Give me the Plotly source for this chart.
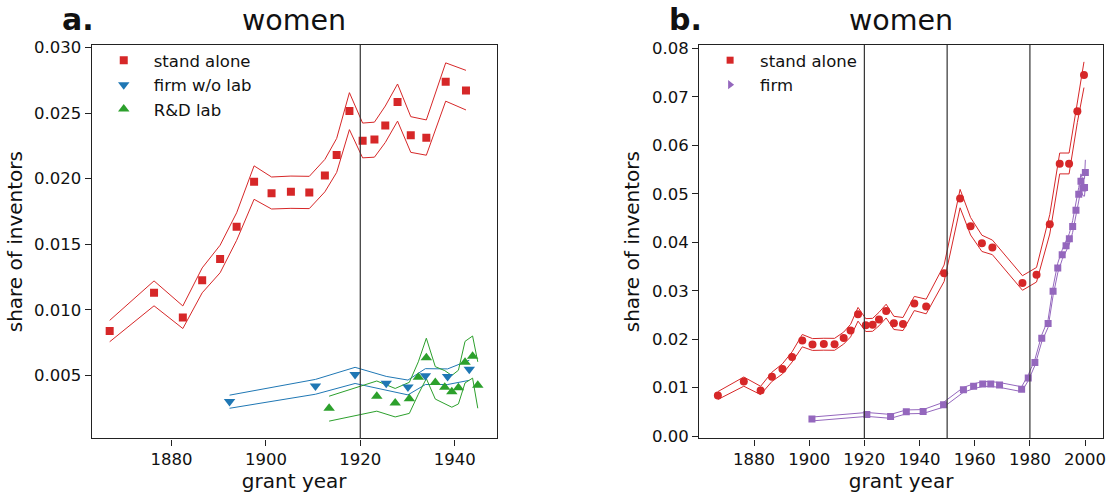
import plotly.graph_objects as go

FONT = "DejaVu Sans"
RED = "#d62728"
BLUE = "#1f77b4"
GREEN = "#2ca02c"
PURPLE = "#9467bd"
AXIS = "#222222"

# ---------------- panel a: women, by inventor organisation ----------------
years_sa = [1866.9, 1876.3, 1882.4, 1886.5, 1890.3, 1893.8, 1897.5, 1901.2, 1905.3, 1909.2,
            1912.5, 1915.0, 1917.7, 1920.5, 1923.0, 1925.3, 1927.9, 1930.7, 1934.0, 1938.1,
            1942.4]
share_sa = [0.00839, 0.01130, 0.00942, 0.01226, 0.01387, 0.01633, 0.01976, 0.01890, 0.01900, 0.01895,
            0.02024, 0.02181, 0.02517, 0.02290, 0.02298, 0.02406, 0.02584, 0.02332, 0.02313, 0.02739,
            0.02673]
upper_sa = [0.00920, 0.01221, 0.01030, 0.01320, 0.01493, 0.01740, 0.02098, 0.02013, 0.02020, 0.02018,
            0.02147, 0.02307, 0.02656, 0.02424, 0.02431, 0.02554, 0.02722, 0.02473, 0.02448, 0.02883,
            0.02826]
lower_sa = [0.00757, 0.01031, 0.00858, 0.01130, 0.01283, 0.01530, 0.01843, 0.01769, 0.01774, 0.01772,
            0.01900, 0.02048, 0.02374, 0.02159, 0.02164, 0.02276, 0.02439, 0.02201, 0.02179, 0.02591,
            0.02524]

years_nolab = [1892.3, 1910.5, 1918.9, 1925.5, 1930.1, 1933.8, 1938.5, 1943.1]
share_nolab = [0.00302, 0.00419, 0.00507, 0.00441, 0.00413, 0.00498, 0.00493, 0.00547]
upper_nolab = [0.00350, 0.00470, 0.00562, 0.00493, 0.00465, 0.00552, 0.00550, 0.00616]
lower_nolab = [0.00250, 0.00357, 0.00439, 0.00389, 0.00352, 0.00431, 0.00431, 0.00463]

years_lab = [1913.4, 1923.5, 1927.4, 1930.4, 1932.3, 1934.0, 1935.9, 1937.9, 1939.4, 1940.8,
             1942.2, 1943.8, 1944.9]
share_lab = [0.00250, 0.00342, 0.00290, 0.00322, 0.00487, 0.00636, 0.00446, 0.00411, 0.00376, 0.00406,
             0.00601, 0.00646, 0.00426]
upper_lab = [0.00342, 0.00458, 0.00401, 0.00448, 0.00604, 0.00784, 0.00567, 0.00537, 0.00500, 0.00540,
             0.00760, 0.00801, 0.00604]
lower_lab = [0.00152, 0.00228, 0.00184, 0.00211, 0.00357, 0.00476, 0.00320, 0.00287, 0.00258, 0.00283,
             0.00443, 0.00480, 0.00250]

breaks_a = [1920]

# ---------------- panel b: women, stand alone vs firm, long run ----------------
years_sa_late = [1948.9, 1954.7, 1958.5, 1962.6, 1966.4, 1977.3, 1982.4, 1987.2, 1990.8, 1994.2,
                 1997.2, 1999.6]
share_sa_late = [0.0336, 0.0490, 0.0433, 0.0398, 0.0389, 0.0316, 0.0333, 0.0437, 0.0562, 0.0562,
                 0.0670, 0.0745]
upper_sa_late = [0.0353, 0.0509, 0.0451, 0.04145, 0.04045, 0.0331, 0.0348, 0.0457, 0.0584, 0.0584,
                 0.0693, 0.0772]
lower_sa_late = [0.0319, 0.0471, 0.0415, 0.0381, 0.03744, 0.0301, 0.0318, 0.0417, 0.0541, 0.0541,
                 0.0647, 0.0719]

years_firm = [1901.0, 1920.9, 1929.5, 1935.2, 1941.3, 1948.7, 1955.9, 1959.6, 1962.9, 1965.8,
              1969.0, 1977.0, 1979.4, 1981.8, 1984.3, 1986.6, 1988.4, 1990.1, 1991.7, 1993.1,
              1994.3, 1995.5, 1996.7, 1997.7, 1998.5, 1999.2, 1999.8, 2000.1]
share_firm = [0.00355, 0.00449, 0.00409, 0.00502, 0.00509, 0.00650, 0.00956, 0.01030, 0.01077, 0.01077,
              0.01057, 0.00970, 0.01203, 0.01518, 0.02019, 0.02326, 0.02988, 0.03469, 0.03744, 0.03930,
              0.04071, 0.04325, 0.04660, 0.04990, 0.05260, 0.05120, 0.05130, 0.05440]
halfwidth_firm = [0.0004, 0.0004, 0.0004, 0.0004, 0.0004, 0.0005, 0.0005, 0.0005, 0.0005, 0.0005,
                  0.0005, 0.0005, 0.0006, 0.0006, 0.0007, 0.0008, 0.0009, 0.0010, 0.0010, 0.0011,
                  0.0011, 0.0012, 0.0013, 0.0014, 0.0015, 0.0016, 0.0018, 0.0026]

breaks_b = [1920, 1950, 1980]

years_sa_b = years_sa + years_sa_late
share_sa_b = share_sa + share_sa_late
upper_sa_b = upper_sa + upper_sa_late
lower_sa_b = lower_sa + lower_sa_late
upper_firm = [v + h for v, h in zip(share_firm, halfwidth_firm)]
lower_firm = [v - h for v, h in zip(share_firm, halfwidth_firm)]

W, H = 1112, 495
fig = go.Figure()


def add_band(x, lo, hi, color, xa, ya):
    for yy in (hi, lo):
        fig.add_trace(go.Scatter(x=x, y=yy, mode="lines", line=dict(color=color, width=1),
                                 showlegend=False, hoverinfo="skip", xaxis=xa, yaxis=ya))


def add_points(x, y, color, symbol, size, xa, ya, name=None, legend=None):
    fig.add_trace(go.Scatter(x=x, y=y, mode="markers", name=name,
                             marker=dict(color=color, symbol=symbol, size=size, line=dict(width=0)),
                             showlegend=name is not None, legend=legend,
                             xaxis=xa, yaxis=ya))


# panel a
add_band(years_sa, lower_sa, upper_sa, RED, "x", "y")
add_band(years_nolab, lower_nolab, upper_nolab, BLUE, "x", "y")
add_band(years_lab, lower_lab, upper_lab, GREEN, "x", "y")
add_points(years_sa, share_sa, RED, "square", 8, "x", "y", "stand alone", "legend")
add_points(years_nolab, share_nolab, BLUE, "triangle-down", 10, "x", "y", "firm w/o lab", "legend")
add_points(years_lab, share_lab, GREEN, "triangle-up", 10, "x", "y", "R&D lab", "legend")

# panel b
add_band(years_sa_b, lower_sa_b, upper_sa_b, RED, "x2", "y2")
add_band(years_firm, lower_firm, upper_firm, PURPLE, "x2", "y2")
add_points(years_sa_b, share_sa_b, RED, "circle", 8, "x2", "y2")
add_points(years_firm, share_firm, PURPLE, "square", 7, "x2", "y2")
# legend entries for panel b
add_points([None], [None], RED, "square", 7, "x2", "y2", "stand alone", "legend2")
add_points([None], [None], PURPLE, "triangle-right", 8, "x2", "y2", "firm", "legend2")

shapes = []
for yr in breaks_a:
    shapes.append(dict(type="line", xref="x", yref="y domain", x0=yr, x1=yr, y0=0, y1=1,
                       line=dict(color="#333333", width=1.2)))
for yr in breaks_b:
    shapes.append(dict(type="line", xref="x2", yref="y2 domain", x0=yr, x1=yr, y0=0, y1=1,
                       line=dict(color="#333333", width=1.2)))

ydom = [1 - 444 / H, 1 - 39 / H]
axis_common = dict(showline=True, mirror=True, linecolor=AXIS, linewidth=1.3, ticks="outside",
                   ticklen=6, tickwidth=1.3, tickcolor=AXIS, showgrid=False, zeroline=False,
                   tickfont=dict(family=FONT, size=16.5, color="#111"))
legend_common = dict(xanchor="left", yanchor="top", bgcolor="rgba(0,0,0,0)",
                     font=dict(family=FONT, size=16.5), tracegroupgap=0,
                     itemsizing="trace", itemwidth=50)

fig.update_layout(
    width=W, height=H, margin=dict(l=0, r=0, t=0, b=0),
    paper_bgcolor="white", plot_bgcolor="white",
    font=dict(family=FONT, color="#111"),
    showlegend=True,
    xaxis=dict(domain=[92 / W, 498 / W], range=[1863.1, 1948.9],
               tickvals=[1880, 1900, 1920, 1940],
               title=dict(text="grant year", font=dict(size=20), standoff=3), **axis_common),
    yaxis=dict(domain=ydom, range=[0.0002, 0.0302],
               tickvals=[0.005, 0.010, 0.015, 0.020, 0.025, 0.030], tickformat=".3f",
               title=dict(text="share of inventors", font=dict(size=20), standoff=6), **axis_common),
    xaxis2=dict(domain=[701 / W, 1106 / W], range=[1860.1, 2006.5], anchor="y2",
                tickvals=[1880, 1900, 1920, 1940, 1960, 1980, 2000],
                title=dict(text="grant year", font=dict(size=20), standoff=3), **axis_common),
    yaxis2=dict(domain=ydom, range=[-0.00046, 0.0807], anchor="x2",
                tickvals=[0.0, 0.01, 0.02, 0.03, 0.04, 0.05, 0.06, 0.07, 0.08], tickformat=".2f",
                title=dict(text="share of inventors", font=dict(size=20), standoff=6), **axis_common),
    legend=dict(x=94 / W, y=1 - 37 / H, **legend_common),
    legend2=dict(x=702 / W, y=1 - 37 / H, **legend_common),
    shapes=shapes,
    annotations=[
        dict(text="women", x=(92 + 498) / 2 / W, y=1 - 33 / H, xref="paper", yref="paper",
             xanchor="center", yanchor="bottom", showarrow=False, font=dict(size=28.5, family=FONT)),
        dict(text="women", x=(701 + 1106) / 2 / W, y=1 - 33 / H, xref="paper", yref="paper",
             xanchor="center", yanchor="bottom", showarrow=False, font=dict(size=28.5, family=FONT)),
        dict(text="<b>a.</b>", x=60 / W, y=1 - 33 / H, xref="paper", yref="paper",
             xanchor="left", yanchor="bottom", showarrow=False, font=dict(size=30, family=FONT)),
        dict(text="<b>b.</b>", x=669 / W, y=1 - 33 / H, xref="paper", yref="paper",
             xanchor="left", yanchor="bottom", showarrow=False, font=dict(size=30, family=FONT)),
    ],
)

fig.write_html("out.html")
